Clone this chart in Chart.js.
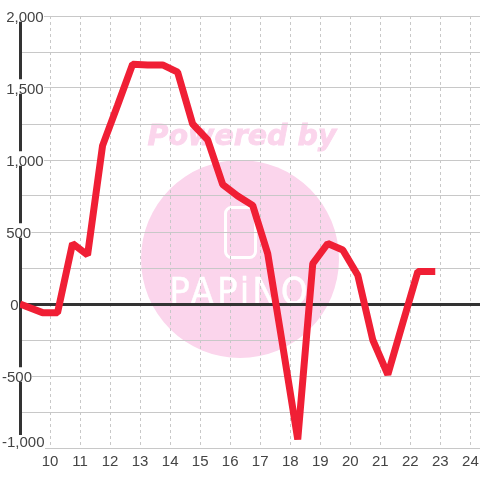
<!DOCTYPE html>
<html>
<head>
<meta charset="utf-8">
<script src="https://cdn.jsdelivr.net/npm/chart.js@4"></script>
<style>
html, body { margin: 0; padding: 0; background: #fff; }
#wrap { width: 480px; height: 480px; }
</style>
</head>
<body>
<div id="wrap"><canvas id="myChart" width="480" height="480"></canvas></div>
<script>
const hours = [9, 9.75, 10.25, 10.75, 11.25, 11.75, 12.25, 12.75, 13.25, 13.75, 14.25, 14.75, 15.25, 15.75, 16.25, 16.75, 17.25, 17.75, 18.25, 18.75, 19.25, 19.75, 20.25, 20.75, 21.25, 21.75, 22.25, 22.83];
const values = [0, -60, -60, 420, 340, 1100, 1380, 1665, 1660, 1660, 1610, 1250, 1140, 830, 750, 685, 350, -290, -940, 280, 420, 375, 200, -250, -490, -130, 225, 225];
const xTicks = [10, 11, 12, 13, 14, 15, 16, 17, 18, 19, 20, 21, 22, 23, 24];
const yTicks = [-1000, -750, -500, -250, 0, 250, 500, 750, 1000, 1250, 1500, 1750, 2000];

const points = hours.map((h, i) => ({x: h, y: values[i]}));

// watermark sits under the grid
const watermark = {
  id: 'watermark',
  beforeDraw(chart) {
    const ctx = chart.ctx;
    ctx.save();
    ctx.fillStyle = '#fbd5ec';
    ctx.strokeStyle = '#fbd5ec';
    ctx.beginPath();
    ctx.arc(240, 259, 99, 0, Math.PI * 2);
    ctx.fill();
    ctx.font = 'italic bold 28.5px "DejaVu Sans"';
    ctx.textAlign = 'center';
    ctx.textBaseline = 'alphabetic';
    ctx.lineWidth = 0.8;
    ctx.fillText('Powered by', 242, 145);
    ctx.strokeText('Powered by', 242, 145);
    ctx.strokeStyle = '#fff';
    ctx.lineWidth = 3;
    ctx.beginPath();
    ctx.roundRect(225.5, 207.5, 30, 50, 6);
    ctx.stroke();
    ctx.lineWidth = 0.4;
    ctx.fillStyle = '#fff';
    ctx.font = '38px "DejaVu Sans Condensed", "DejaVu Sans"';
    ctx.letterSpacing = '3px';
    ctx.fillText('PAPiNO', 240, 304);
    ctx.strokeText('PAPiNO', 240, 304);
    ctx.restore();
  }
};

// the -1,000 label has no backdrop, so clear the axis behind it here (labels are z 1)
const bottomLabelGap = {
  id: 'bottomLabelGap',
  beforeDatasetsDraw(chart) {
    const bottom = chart.scales.y.getPixelForValue(-1000);
    chart.ctx.save();
    chart.ctx.fillStyle = '#fff';
    chart.ctx.fillRect(0, bottom - 13, 45, 15);
    chart.ctx.restore();
  }
};

// labels hang from x=2: negatives start there, the rest get a leading space
// the empty first line nudges the text down a little
function yLabel(v) {
  if (v === -1000) return ['-1,000', ''];
  if (v % 500 !== 0) return '';
  const text = v.toLocaleString('en-US');
  return ['', v < 0 ? text : v === 0 ? '  ' + text : ' ' + text];
}

const config = {
  type: 'line',
  data: {
    datasets: [{
      data: points,
      borderColor: '#f01f35',
      borderWidth: 7,
      borderCapStyle: 'butt',
      borderJoinStyle: 'bevel',
      pointRadius: 0,
      tension: 0,
      fill: false
    }]
  },
  options: {
    responsive: false,
    animation: false,
    layout: {padding: {top: 16, left: 0, right: 0, bottom: 0}},
    plugins: {legend: {display: false}, title: {display: false}, tooltip: {enabled: false}},
    scales: {
      x: {
        type: 'linear',
        min: 9,
        max: 24.32,
        afterBuildTicks: s => { s.ticks = xTicks.map(v => ({value: v})); },
        afterFit: s => { s.height = 32; s.paddingRight = 0; s.paddingLeft = 0; },
        grid: {color: '#c8c8c8', lineWidth: 1, drawTicks: false},
        border: {display: false, dash: [3, 3]},
        ticks: {
          color: '#444',
          font: {family: '"Liberation Sans"', size: 15},
          padding: 5,
          maxRotation: 0,
          autoSkip: false,
          callback: v => String(v)
        }
      },
      y: {
        min: -1000,
        max: 2000,
        afterBuildTicks: s => { s.ticks = yTicks.map(v => ({value: v})); },
        afterFit: s => { s.width = 20; },
        grid: {
          color: c => c.tick.value === 0 ? '#333' : '#c8c8c8',
          lineWidth: c => c.tick.value === 0 ? 3 : 1,
          drawTicks: false
        },
        border: {display: true, color: '#333', width: 3},
        ticks: {
          z: 1,
          mirror: true,
          padding: -18,
          color: '#444',
          autoSkip: false,
          showLabelBackdrop: c => c.tick.value % 500 === 0 && c.tick.value !== -1000,
          backdropColor: '#fff',
          backdropPadding: {top: 4, bottom: 4, left: 0, right: 0},
          font: c => c.tick && c.tick.value === -1000
            ? {family: '"Liberation Sans"', size: 15, lineHeight: '11px'}
            : {family: '"Liberation Sans"', size: 15, lineHeight: '3px'},
          callback: yLabel
        }
      }
    }
  },
  plugins: [watermark, bottomLabelGap]
};

const myChart = new Chart(document.getElementById('myChart'), config);
</script>
</body>
</html>
